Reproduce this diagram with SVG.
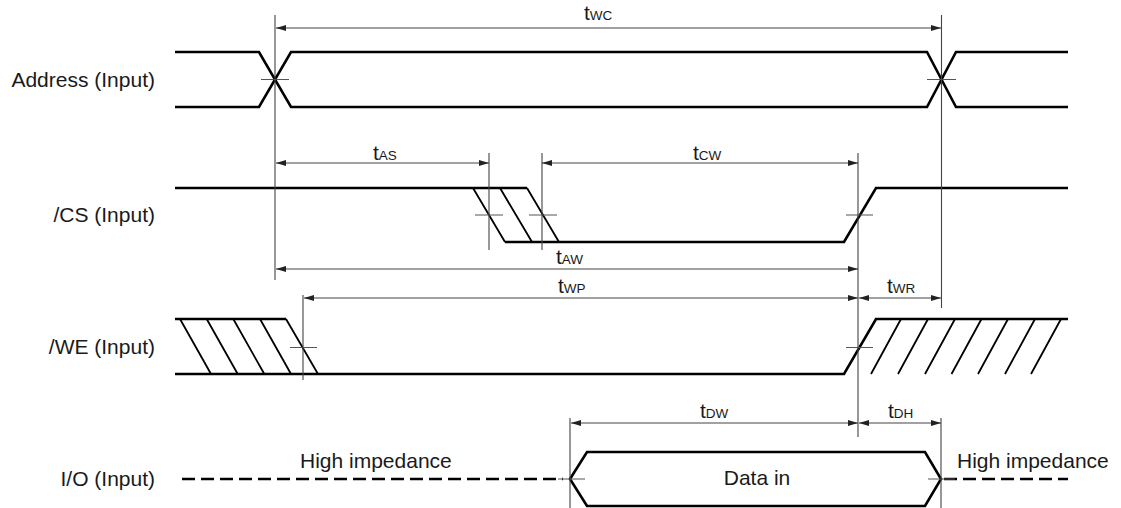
<svg xmlns="http://www.w3.org/2000/svg" width="1121" height="508" viewBox="0 0 1121 508">
<style>
text{font-family:"Liberation Sans",Arial,sans-serif;fill:#1a1a1a}
.lbl{font-size:21px;text-anchor:end}
.io{font-size:21px}
.t{font-size:21px}
.sub{font-size:13.5px}
.w{fill:none;stroke:#000;stroke-width:2.6;stroke-linejoin:miter}
.h{fill:none;stroke:#000;stroke-width:1.8}
.g{fill:none;stroke:#444;stroke-width:1.1}
.tick{fill:none;stroke:#555;stroke-width:1.1}
.dim{fill:none;stroke:#444;stroke-width:1.1;marker-start:url(#ah);marker-end:url(#ah)}
.dash{fill:none;stroke:#000;stroke-width:2.4;stroke-dasharray:13 6}
</style>
<defs>
<marker id="ah" viewBox="0 0 10 6" refX="10" refY="3" markerWidth="10" markerHeight="6" markerUnits="userSpaceOnUse" orient="auto-start-reverse"><path d="M0,0 L10,3 L0,6 z" fill="#222"/></marker>
</defs>

<g id="labels">
<text class="lbl" x="155" y="87">Address (Input)</text>
<text class="lbl" x="155" y="222">/CS (Input)</text>
<text class="lbl" x="155" y="354">/WE (Input)</text>
<text class="lbl" x="155" y="486">I/O (Input)</text>
</g>

<g id="address">
<path class="w" d="M175,52 H259 L291,107 H927 L956,52 H1068"/>
<path class="w" d="M175,107 H259 L291,52 H927 L956,107 H1068"/>
<path class="tick" d="M261,79.5 H289 M927,79.5 H956"/>
</g>

<g id="cs">
<path class="w" d="M175,188 H527 M505,242 H844 L876,188 H1068"/>
<path class="h" d="M473,188 L505,242 M500,188 L532,242 M527,188 L559,242"/>
<path class="tick" d="M475,215 H503 M529,215 H557 M846,215 H873"/>
</g>

<g id="we">
<path class="w" d="M175,319 H286 M175,374 H844 L876,319 H1068"/>
<path class="h" d="M180,319 L211,374 M206.7,319 L237.7,374 M233.3,319 L264.3,374 M260,319 L291,374 M286,319 L318,374"/>
<path class="h" d="M871,374 L901,319 M898,374 L928,319 M925,374 L955,319 M951.5,374 L981.5,319 M978,374 L1008,319 M1005,374 L1035,319 M1031,374 L1061,319"/>
<path class="tick" d="M290,347.5 H317 M846,347.5 H873"/>
</g>

<g id="io">
<path class="dash" d="M182,479 H563"/>
<path class="dash" d="M944,479 H1068"/>
<path class="w" d="M570,479 L587,452 H925 L941,479 L925,506 H587 Z"/>
<path class="tick" d="M558,479 H585 M928,479 H955"/>
<text class="io" x="300" y="468">High impedance</text>
<text class="io" x="957" y="468">High impedance</text>
<text class="io" x="757" y="485" text-anchor="middle">Data in</text>
</g>

<g id="connectors">
<path class="g" d="M275,15 V280 M941.5,15 V308 M489,153 V250 M542,153 V250 M858,153 V437 M303,295 V380 M570,418 V508 M941,418 V508"/>
<line class="dim" x1="276" y1="28" x2="941" y2="28"/>
<line class="dim" x1="276" y1="163" x2="489" y2="163"/>
<line class="dim" x1="542" y1="163" x2="858" y2="163"/>
<line class="dim" x1="276" y1="269" x2="858" y2="269"/>
<line class="dim" x1="304" y1="298" x2="858" y2="298"/>
<line class="dim" x1="859" y1="298" x2="941" y2="298"/>
<line class="dim" x1="571" y1="423" x2="858" y2="423"/>
<line class="dim" x1="859" y1="423" x2="941" y2="423"/>
<text class="t" x="584" y="20">t<tspan class="sub">WC</tspan></text>
<text class="t" x="373" y="160">t<tspan class="sub">AS</tspan></text>
<text class="t" x="693" y="160">t<tspan class="sub">CW</tspan></text>
<text class="t" x="556" y="264">t<tspan class="sub">AW</tspan></text>
<text class="t" x="558" y="293">t<tspan class="sub">WP</tspan></text>
<text class="t" x="887" y="293">t<tspan class="sub">WR</tspan></text>
<text class="t" x="700" y="418">t<tspan class="sub">DW</tspan></text>
<text class="t" x="888" y="418">t<tspan class="sub">DH</tspan></text>
</g>
</svg>
